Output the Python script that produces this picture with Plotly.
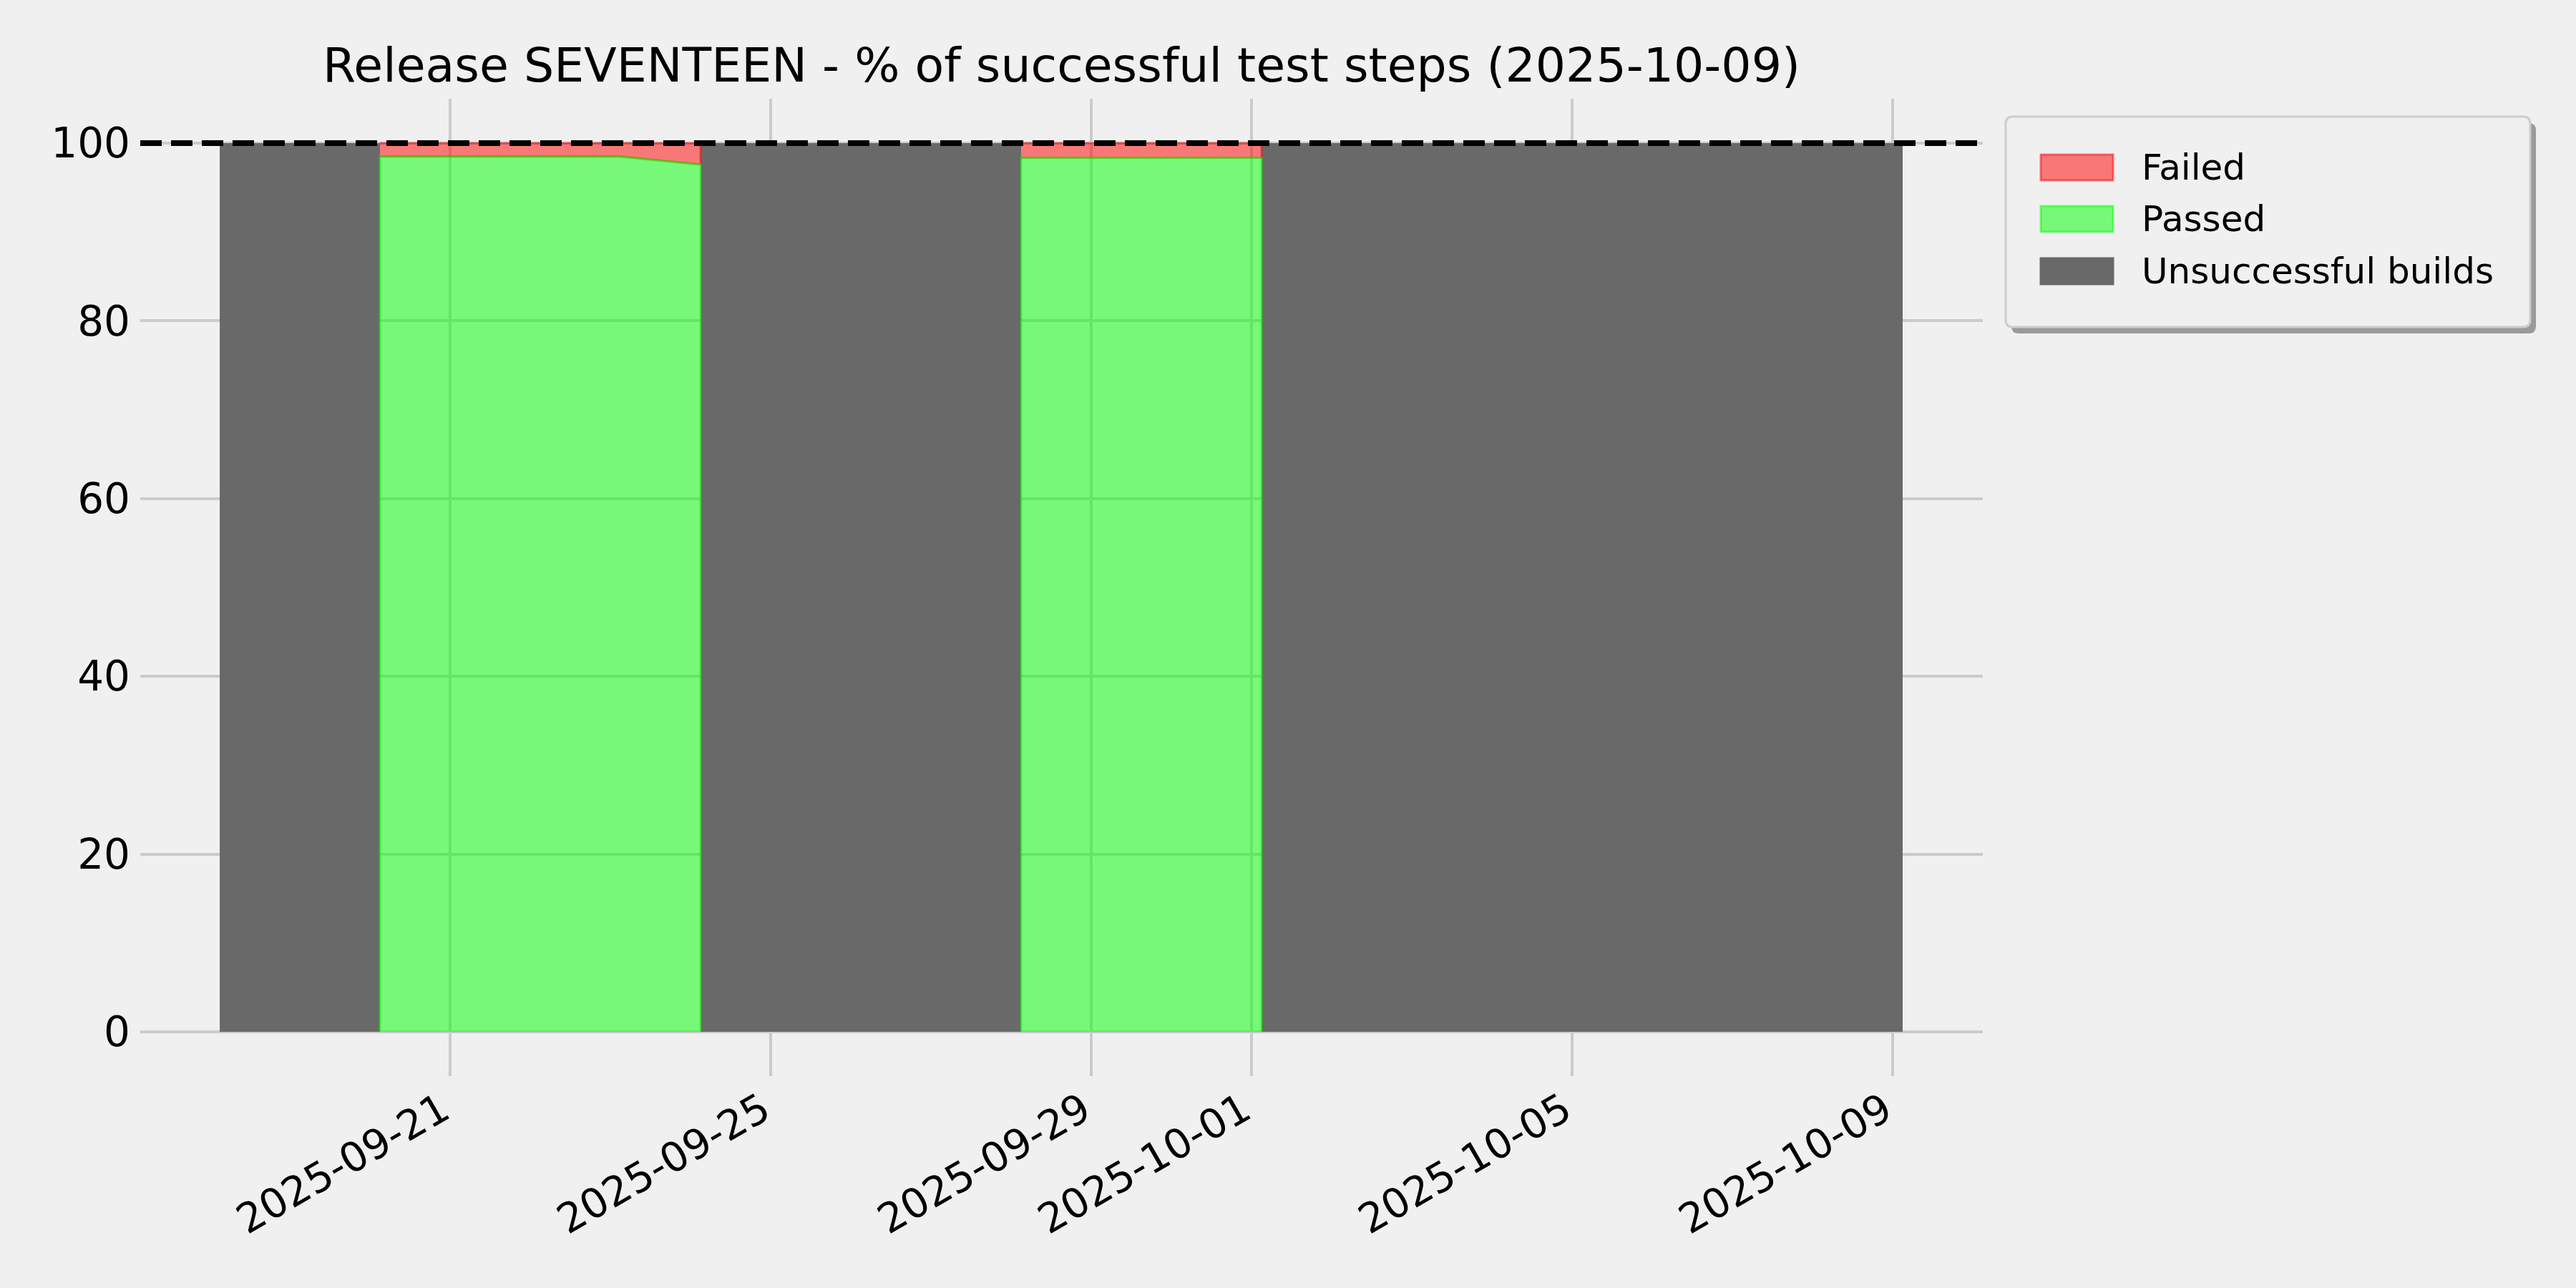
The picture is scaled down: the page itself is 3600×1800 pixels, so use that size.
import plotly.graph_objects as go

# ---------------- data ----------------
# Successful builds: % of test steps passed / failed
run1_dates = ["2025-09-20 03:00", "2025-09-21 03:00", "2025-09-22 03:00",
              "2025-09-23 03:00", "2025-09-24 03:00"]
run1_passed = [98.5, 98.5, 98.5, 98.5, 97.6]
run1_failed = [1.5, 1.5, 1.5, 1.5, 2.4]

run2_dates = ["2025-09-28 03:00", "2025-09-29 03:00", "2025-09-30 03:00",
              "2025-10-01 03:00"]
run2_passed = [98.35, 98.35, 98.35, 98.35]
run2_failed = [1.65, 1.65, 1.65, 1.65]

# Unsuccessful builds, as a step series (100 = whole span unsuccessful)
unsucc_dates = ["2025-09-18 03:00", "2025-09-20 03:00", "2025-09-24 03:00",
                "2025-09-28 03:00", "2025-10-01 03:00", "2025-10-09 03:00"]
unsucc_pct = [100, 0, 100, 0, 100, 100]

tick_dates = ["2025-09-21", "2025-09-25", "2025-09-29", "2025-10-01",
              "2025-10-05", "2025-10-09"]
y_ticks = [0, 20, 40, 60, 80, 100]
target_pct = 100
title_text = "Release SEVENTEEN - % of successful test steps (2025-10-09)"
legend_labels = ["Failed", "Passed", "Unsuccessful builds"]

# ---------------- styles ----------------
BG = "#f0f0f0"
GRID = "#cbcbcb"
RED = "rgba(255,0,0,0.5)"
GREEN = "rgba(0,255,0,0.5)"
GRAY = "#696969"
FONT = "DejaVu Sans"

W, H = 3600, 1800
L, R, T, B = 196, 829, 138, 296
PW, PH = W - L - R, H - T - B

fig = go.Figure()

# unsuccessful builds
fig.add_trace(go.Scatter(x=unsucc_dates, y=unsucc_pct, mode="lines",
                         line=dict(shape="hv", width=0, color=GRAY),
                         fill="tozeroy", fillcolor=GRAY,
                         name=legend_labels[2], showlegend=False,
                         hoverinfo="skip"))

for dates, passed, failed in [(run1_dates, run1_passed, run1_failed),
                              (run2_dates, run2_passed, run2_failed)]:
    top = [p + f for p, f in zip(passed, failed)]
    # failed band (between passed and passed+failed)
    fig.add_trace(go.Scatter(x=list(dates) + list(dates[::-1]),
                             y=top + passed[::-1], mode="lines",
                             line=dict(color=RED, width=3),
                             fill="toself", fillcolor=RED,
                             name=legend_labels[0], showlegend=False))
    # passed band (0 .. passed)
    fig.add_trace(go.Scatter(x=[dates[0]] + list(dates) + [dates[-1]],
                             y=[0] + list(passed) + [0], mode="lines",
                             line=dict(color=GREEN, width=3),
                             fill="toself", fillcolor=GREEN,
                             name=legend_labels[1], showlegend=False))

shapes = []
# target line at 100 %
shapes.append(dict(type="line", xref="paper", yref="y", x0=0, x1=1,
                   y0=target_pct, y1=target_pct, layer="above",
                   line=dict(color="black", width=8, dash="30px,13px")))


# ---------------- manual legend (matplotlib-like) ----------------
def px(xp):
    return (xp - L) / PW


def py(yp):
    return (H - B - yp) / PH


def rounded_rect(x0, y0, x1, y1, r):
    rx, ry = r / PW, r / PH
    a, b_, c, d = px(x0), py(y0), px(x1), py(y1)  # b_ top, d bottom
    return (f"M {a+rx},{b_} L {c-rx},{b_} Q {c},{b_} {c},{b_-ry} "
            f"L {c},{d+ry} Q {c},{d} {c-rx},{d} L {a+rx},{d} "
            f"Q {a},{d} {a},{d+ry} L {a},{b_-ry} Q {a},{b_} {a+rx},{b_} Z")


bx0, by0, bx1, by1 = 2803, 163, 3536, 457
shapes.append(dict(type="path", xref="paper", yref="paper", layer="above",
                   path=rounded_rect(bx0 + 8, by0 + 9, bx1 + 8, by1 + 9, 10),
                   fillcolor="#9a9a9a", line=dict(width=0)))
shapes.append(dict(type="path", xref="paper", yref="paper", layer="above",
                   path=rounded_rect(bx0, by0, bx1, by1, 10),
                   fillcolor=BG, line=dict(color="#cccccc", width=3)))

patch_styles = [(RED, RED), (GREEN, GREEN), (GRAY, GRAY)]
patch_tops = [216, 288, 361]
annotations = []
for lab, (fc, lc), top in zip(legend_labels, patch_styles, patch_tops):
    shapes.append(dict(type="rect", xref="paper", yref="paper", layer="above",
                       x0=px(2852), x1=px(2953), y0=py(top), y1=py(top + 36),
                       fillcolor=fc, line=dict(color=lc, width=3)))
    annotations.append(dict(text=lab, xref="paper", yref="paper",
                            x=px(2991), y=py(top + 18), xanchor="left",
                            yanchor="middle", showarrow=False,
                            font=dict(family=FONT, size=50, color="black")))

fig.update_layout(
    width=W, height=H,
    margin=dict(l=L, r=R, t=T, b=B, pad=0),
    paper_bgcolor=BG, plot_bgcolor=BG,
    showlegend=False,
    title=dict(text=title_text, x=0.5, xref="paper", xanchor="center",
               y=1 - 91 / H, yref="container", yanchor="middle",
               font=dict(family=FONT, size=66.5, color="black")),
    xaxis=dict(type="date", range=["2025-09-17 03:12", "2025-10-10 03:00"],
               tickvals=tick_dates, tickformat="%Y-%m-%d", tickangle=-30,
               showgrid=True, gridcolor=GRID, gridwidth=4, zeroline=False,
               showline=False, ticks="", ticklabelshift=-11,
               ticklabelstandoff=2,
               tickfont=dict(family=FONT, size=57, color="black")),
    yaxis=dict(range=[-5, 105], tickvals=y_ticks, showgrid=True,
               gridcolor=GRID, gridwidth=4, zeroline=False, showline=False,
               ticks="", ticklabelstandoff=13,
               tickfont=dict(family=FONT, size=58, color="black")),
    shapes=shapes,
    annotations=annotations,
)

fig.write_html("out.html",
               config={"displayModeBar": False},
               post_script="document.body.style.margin='0';"
                           "document.body.style.padding='0';")
